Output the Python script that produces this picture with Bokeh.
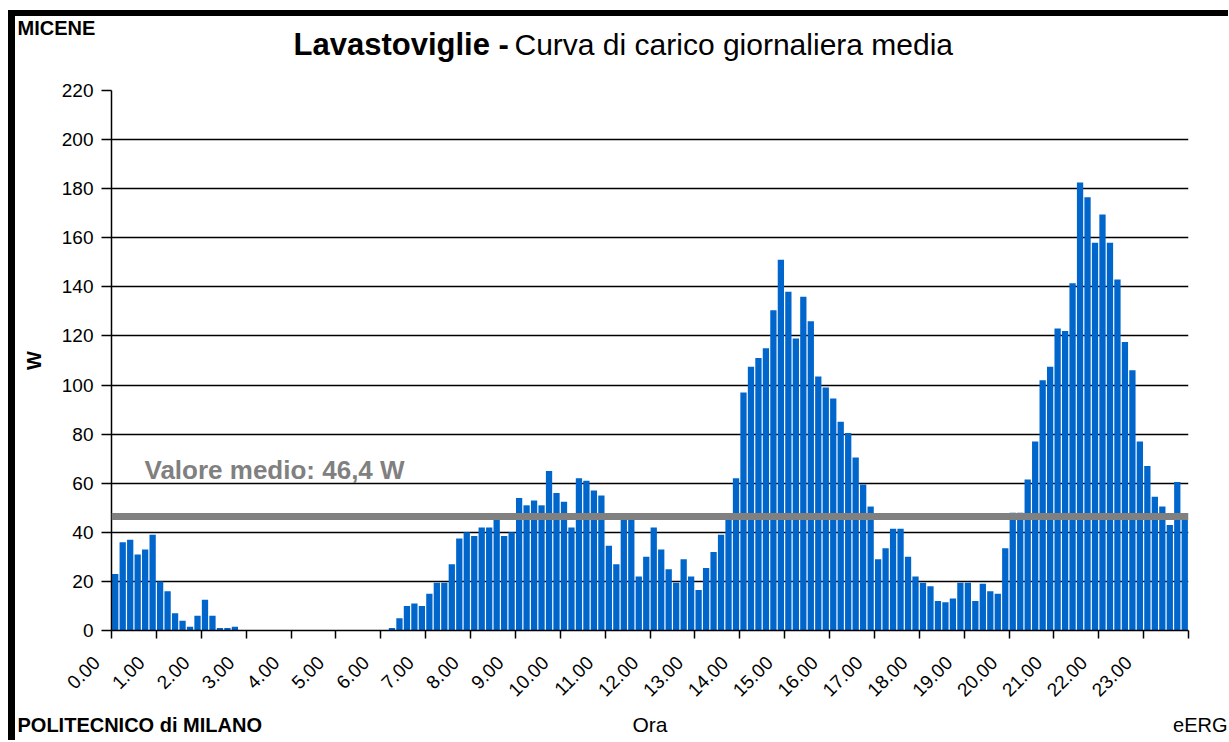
import math
from bokeh.plotting import figure
from bokeh.layouts import column
from bokeh.models import FixedTicker, Range1d, Span, Label, ColumnDataSource
from bokeh.core.properties import value
from bokeh.embed import file_html
from bokeh.resources import INLINE

# ---- data (average daily load curve, 10-minute slots, W) ----
slot_minutes = 10
load_w = [
    23, 36, 37, 31, 33, 39, 20, 16, 7, 4, 1.5, 6, 12.5, 6, 1, 1, 1.5,
    0, 0, 0, 0, 0, 0, 0, 0, 0, 0, 0, 0, 0, 0, 0, 0, 0, 0, 0, 0,
    1, 5, 10, 11, 10, 15, 19.5, 19.5, 27, 37.5, 40, 38.5, 42, 42, 45, 38.5,
    40, 54, 51, 53, 51, 65, 56, 52.5, 42, 62, 61, 57, 55, 34.5, 27, 46,
    46, 22, 30, 42, 33, 25, 19.5, 29, 22, 16.5, 25.5, 32, 39, 46, 62, 97,
    107.5, 111, 115, 130.5, 151, 138, 119, 136, 126, 103.5, 99, 94.5, 85, 80.5,
    70.5, 59.5, 50.5, 29, 33.5, 41.5, 41.5, 30, 22, 19.5, 18, 12, 11.5, 13,
    19.5, 19.5, 12, 19, 16, 15, 33.5, 48, 48, 61.5, 77, 102, 107.5, 123,
    122, 141.5, 182.5, 176.5, 158, 169.5, 158, 143, 117.5, 106, 77, 67, 54.5,
    50.5, 43, 60.5, 46,
]
mean_w = 46.4
mean_label = "Valore medio: 46,4 W"
hours = list(range(25))
hour_labels = ["0.00", "1.00", "2.00", "3.00", "4.00", "5.00", "6.00", "7.00",
               "8.00", "9.00", "10.00", "11.00", "12.00", "13.00", "14.00",
               "15.00", "16.00", "17.00", "18.00", "19.00", "20.00", "21.00",
               "22.00", "23.00", ""]
y_ticks = [0, 20, 40, 60, 80, 100, 120, 140, 160, 180, 200, 220]

title_bold = "Lavastoviglie -"
title_rest = "Curva di carico giornaliera media"
corner_top = "MICENE"
footer_left = "POLITECNICO di MILANO"
footer_right = "eERG"
x_title = "Ora"
y_title = "W"

FONT = "Liberation Sans"
CANVAS_W = 1213
NBSP = "\u00a0"

# ---------------- main chart ----------------
slot_h = slot_minutes / 60.0
centers = [(i + 0.5) * slot_h for i in range(len(load_w))]
src = ColumnDataSource(dict(x=centers, top=load_w))

p = figure(
    output_backend="svg", toolbar_location=None,
    frame_width=1077, frame_height=540, frame_align=False,
    min_border_left=96, min_border_right=CANVAS_W - 96 - 1077,
    min_border_top=10, min_border_bottom=80,
    x_range=Range1d(0, 24), y_range=Range1d(0, 220),
    background_fill_color="white", border_fill_color="white",
)
p.outline_line_color = None

p.vbar(x="x", top="top", width=slot_h * 0.84, bottom=0, source=src,
       fill_color="#0066CC", line_color=None)

p.add_layout(Span(location=mean_w, dimension="width", line_color="#808080",
                  line_width=7))

p.xgrid.visible = False
p.ygrid.ticker = FixedTicker(ticks=y_ticks[1:])
p.ygrid.grid_line_color = "black"
p.ygrid.grid_line_width = 1.3

xa = p.xaxis[0]
xa.ticker = FixedTicker(ticks=hours)
# slanted hour labels; trailing no-break spaces set them a little left/below the tick
xa.major_label_overrides = {h: (lab + NBSP * 4 if lab else "")
                            for h, lab in zip(hours, hour_labels)}
xa.major_label_orientation = math.pi / 4
xa.major_label_standoff = 6
xa.major_label_text_font = FONT
xa.major_label_text_font_size = "19px"
xa.major_label_text_color = "black"
xa.minor_tick_line_color = None
xa.axis_line_color = "black"
xa.axis_line_width = 1.5
xa.major_tick_line_color = "black"
xa.major_tick_line_width = 1.5
xa.major_tick_in = 0
xa.major_tick_out = 8

ya = p.yaxis[0]
ya.ticker = FixedTicker(ticks=y_ticks)
ya.minor_tick_line_color = None
ya.axis_label = y_title
ya.axis_label_text_font_style = "bold"
ya.axis_line_color = "black"
ya.axis_line_width = 1.5
ya.major_tick_line_color = "black"
ya.major_tick_line_width = 1.5
ya.major_tick_in = 0
ya.major_tick_out = 10
ya.major_label_standoff = 8
ya.major_label_text_font = FONT
ya.major_label_text_font_size = "19px"
ya.major_label_text_color = "black"
ya.axis_label_text_font = FONT
ya.axis_label_text_color = "black"
ya.axis_label_text_font_size = "20px"
ya.axis_label_standoff = 14

p.add_layout(Label(x=33, y=161, x_units="screen", y_units="screen", text=mean_label,
                   text_font=FONT, text_font_size="26px", text_font_style="bold",
                   text_color="#808080", text_baseline="middle"))


# ---------------- header / footer strips ----------------
def strip(height):
    f = figure(output_backend="svg", toolbar_location=None,
               frame_width=CANVAS_W, frame_height=height, frame_align=False,
               x_range=Range1d(0, CANVAS_W), y_range=Range1d(height, 0),
               x_axis_type=None, y_axis_type=None, min_border=0,
               background_fill_color="white", border_fill_color="white")
    f.grid.visible = False
    f.outline_line_color = None
    return f


def put(f, x, y, txt, size, style="normal", align="left"):
    f.text(x=[x], y=[y], text=[txt], text_font=value(FONT),
           text_font_size=value(size), text_font_style=style,
           text_align=align, text_baseline="middle", text_color="black")


head = strip(64)
put(head, 2, 11, corner_top, "20px", "bold")
put(head, 278, 28, title_bold, "31px", "bold")
put(head, 499, 28, title_rest, "30px")

foot = strip(30)
put(foot, 2, 14.5, footer_left, "20px", "bold")
put(foot, 634.5, 13.5, x_title, "21px", align="center")
put(foot, CANVAS_W - 1, 14.5, footer_right, "20px", align="right")

layout = column(head, p, foot, spacing=0,
                styles={"border-left": "7px solid black",
                        "border-top": "6px solid black",
                        "margin-left": "8px", "margin-top": "10px"})

open("out.html", "w").write(file_html(layout, INLINE))
